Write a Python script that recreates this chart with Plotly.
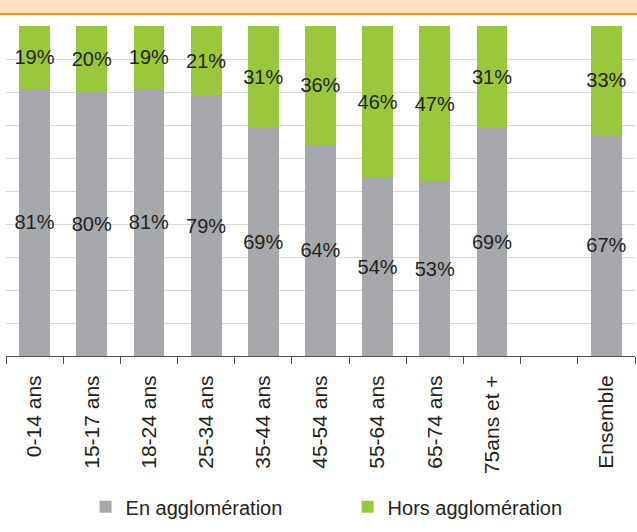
import plotly.graph_objects as go

categories = ["0-14 ans", "15-17 ans", "18-24 ans", "25-34 ans", "35-44 ans",
              "45-54 ans", "55-64 ans", "65-74 ans", "75ans et +", " ", "Ensemble"]
en_agglo = [81, 80, 81, 79, 69, 64, 54, 53, 69, None, 67]
hors_agglo = [19, 20, 19, 21, 31, 36, 46, 47, 31, None, 33]

GRAY = "#A7A8AB"
GREEN = "#9AC83C"
TXT = "#231F20"
FONT = "Liberation Sans, Arial, Helvetica, sans-serif"

def labels(vals):
    return [f"{v}%" if v is not None else "" for v in vals]

fig = go.Figure()
fig.add_trace(go.Bar(
    x=categories, y=en_agglo, name="En agglomération",
    marker=dict(color=GRAY, line=dict(width=0)),
    text=labels(en_agglo), textposition="inside", textangle=0,
    insidetextanchor="middle", constraintext="none",
    textfont=dict(family=FONT, size=20, color=TXT),
    hoverinfo="skip", cliponaxis=False,
))
fig.add_trace(go.Bar(
    x=categories, y=hors_agglo, name="Hors agglomération",
    marker=dict(color=GREEN, line=dict(width=0)),
    text=labels(hors_agglo), textposition="inside", textangle=0,
    insidetextanchor="middle", constraintext="none",
    textfont=dict(family=FONT, size=20, color=TXT),
    hoverinfo="skip", cliponaxis=False,
))

fig.update_layout(
    width=637, height=532,
    barmode="stack", bargap=0.46,
    paper_bgcolor="white", plot_bgcolor="white",
    margin=dict(l=6, r=2, t=26, b=176, autoexpand=False),
    font=dict(family=FONT, color=TXT),
    showlegend=True,
    legend=dict(
        orientation="h", x=0.1265, xanchor="left", y=-0.457, yanchor="middle",
        font=dict(family=FONT, size=20, color=TXT),
        entrywidth=217, entrywidthmode="pixels",
        traceorder="normal", itemclick=False, itemdoubleclick=False,
        bgcolor="rgba(0,0,0,0)",
    ),
    uniformtext=dict(mode=False),
)

fig.update_xaxes(
    type="category", categoryorder="array", categoryarray=categories,
    tickangle=-90, tickfont=dict(family=FONT, size=21, color=TXT),
    showline=True, linecolor="#555555", linewidth=1,
    ticks="outside", tickson="boundaries", ticklen=7, tickcolor="#555555",
    ticklabelstandoff=10,
    showgrid=False, fixedrange=True, automargin=False,
)
fig.update_yaxes(
    range=[0, 100], dtick=10, showticklabels=False,
    showgrid=True, gridcolor="#D9D9D9", gridwidth=1,
    zeroline=False, showline=False, fixedrange=True, automargin=False,
)

# Orange header band
fig.add_shape(type="rect", xref="paper", yref="paper", x0=-0.02, x1=1.01,
              y0=1.0 + 13/330, y1=1.2, fillcolor="#FEE1C3", line=dict(width=0),
              layer="below")
fig.add_shape(type="line", xref="paper", yref="paper", x0=-0.02, x1=1.01,
              y0=1.0 + 12/330, y1=1.0 + 12/330, line=dict(color="#F39C1F", width=2))

fig.write_html(
    "out.html",
    config={"displayModeBar": False},
    post_script="document.body.style.margin='0';document.body.style.overflow='hidden';",
)
